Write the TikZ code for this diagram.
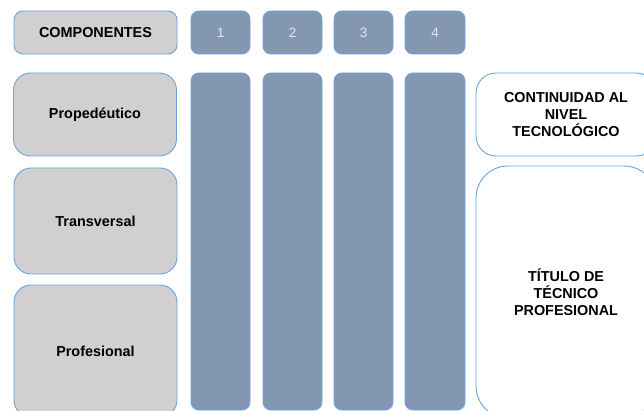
\documentclass[tikz,border=0pt]{standalone}
\usepackage{fontspec}
\setmainfont{Liberation Sans}
\definecolor{edgeblue}{HTML}{6AA2DC}
\definecolor{graybox}{HTML}{D1CFD0}
\definecolor{colfill}{HTML}{8497B0}
\definecolor{numtext}{HTML}{E2E8EF}
\begin{document}
\begin{tikzpicture}[x=1pt,y=-1pt,
  base/.style={draw=edgeblue, line width=0.9pt, inner sep=2pt, outer sep=0pt, align=center,
    font=\fontsize{14.4}{17.3}\selectfont\bfseries},
  compbox/.style={base, fill=graybox, rounded corners=17pt},
  headbox/.style={base, fill=graybox, rounded corners=9pt},
  numbox/.style={base, fill=colfill, rounded corners=8pt, text=numtext,
    font=\fontsize{13.5}{16}\selectfont},
  colbox/.style={base, fill=colfill, rounded corners=8pt},
  outbox/.style={base, fill=white}
]
\useasboundingbox (0,0) rectangle (644,411);
\clip (0,0) rectangle (644,411);
\fill[white] (0,0) rectangle (644,411);

\node[headbox, minimum width=163pt, minimum height=43pt] (comp) at (95.5,32.5) {COMPONENTES};
\node[numbox, minimum width=59pt, minimum height=43pt] (n1) at (220.5,32.5) {1};
\node[numbox, minimum width=59pt, minimum height=43pt] (n2) at (292.5,32.5) {2};
\node[numbox, minimum width=59pt, minimum height=43pt] (n3) at (363.5,32.5) {3};
\node[numbox, minimum width=60pt, minimum height=43pt] (n4) at (435,32.5) {4};

\node[colbox, minimum width=59pt, minimum height=337pt] (c1) at (220.5,241.5) {};
\node[colbox, minimum width=59pt, minimum height=337pt] (c2) at (292.5,241.5) {};
\node[colbox, minimum width=59pt, minimum height=337pt] (c3) at (363.5,241.5) {};
\node[colbox, minimum width=60pt, minimum height=337pt] (c4) at (435,241.5) {};

\node[compbox, minimum width=163pt, minimum height=83pt] (prop) at (95,114.5) {Propedéutico};
\node[compbox, minimum width=163pt, minimum height=106pt] (trans) at (95.5,221) {Transversal};
\node[compbox, minimum width=163pt, minimum height=132pt] (prof) at (95.5,351) {Profesional};

\node[outbox, rounded corners=20pt, minimum width=180pt, minimum height=83pt] (cont) at (566,114.5) {CONTINUIDAD AL\\NIVEL\\TECNOLÓGICO};
\node[outbox, rounded corners=32pt, minimum width=180pt, minimum height=252pt] (tit) at (566,292) {TÍTULO DE\\TÉCNICO\\PROFESIONAL};
\end{tikzpicture}
\end{document}
